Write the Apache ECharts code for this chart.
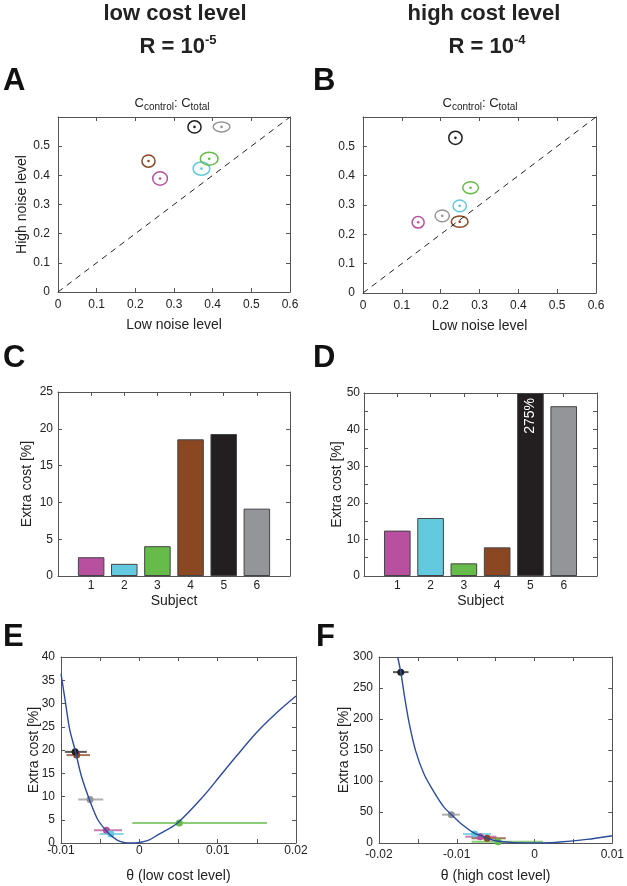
<!DOCTYPE html>
<html>
<head>
<meta charset="utf-8">
<script src="https://cdn.jsdelivr.net/npm/echarts@6/dist/echarts.min.js"></script>
<style>
html,body{margin:0;padding:0;background:#fff}
#main{width:627px;height:886px}
</style>
</head>
<body>
<div id="main"></div>
<script>
/* 数据 */

// 受试者 1-6 的颜色
const subjColors = ['#b8509f', '#62c9de', '#66bb4a', '#8b4622', '#231f20', '#949598'];
const subjects = [1, 2, 3, 4, 5, 6];

// A: 低成本, Ccontrol:Ctotal (低噪声 / 高噪声) 及误差椭圆半径
const aLowNoise = [0.264, 0.371, 0.391, 0.234, 0.353, 0.423];
const aHighNoise = [0.389, 0.423, 0.457, 0.449, 0.566, 0.566];
const aErrX = [0.019, 0.0215, 0.023, 0.017, 0.017, 0.0215];
const aErrY = [0.023, 0.023, 0.022, 0.021, 0.021, 0.017];

// B: 高成本
const bLowNoise = [0.142, 0.249, 0.277, 0.249, 0.238, 0.204];
const bHighNoise = [0.241, 0.297, 0.359, 0.243, 0.529, 0.263];
const bErrX = [0.0155, 0.0172, 0.0202, 0.0215, 0.0172, 0.0185];
const bErrY = [0.0198, 0.0198, 0.0203, 0.0192, 0.0226, 0.0198];

// 对角线
const diagLine = [0, 0.6];

// C / D: 额外成本 [%]
const cExtraCost = [2.55, 1.65, 4.05, 18.57, 19.29, 9.15];
const dExtraCost = [12.4, 15.85, 3.46, 7.83, 275, 46.4];

// E: 低成本 θ 曲线
const eCurveTheta = [-0.01, -0.0095, -0.0089, -0.0082, -0.0074, -0.0063, -0.0053, -0.004, -0.0033, -0.0027, -0.002, -0.0012, -0.0005, 0, 0.0012, 0.0024, 0.0048, 0.0082, 0.0103, 0.0124, 0.015, 0.0176, 0.02];
const eCurveCost = [36.4, 31.0, 24.5, 20.0, 14.4, 9.0, 5.0, 2.2, 1.2, 0.5, 0.12, 0, 0.02, 0.1, 0.6, 1.8, 4.2, 10.1, 14.4, 18.7, 23.8, 28.1, 31.6];
// E: 受试者估计值及区间
const eTheta = [-0.0042, -0.00365, 0.0051, -0.0080, -0.0082, -0.0063];
const eCost = [2.74, 1.94, 4.3, 18.9, 19.6, 9.36];
const eThetaLo = [-0.0058, -0.0051, -0.0009, -0.0093, -0.0095, -0.0078];
const eThetaHi = [-0.0022, -0.0020, 0.0163, -0.0063, -0.0067, -0.0046];

// F: 高成本 θ 曲线
const fCurveTheta = [-0.0176, -0.0172, -0.0167, -0.0161, -0.0153, -0.0142, -0.0129, -0.0117, -0.0107, -0.0094, -0.0077, -0.0068, -0.0061, -0.0048, -0.003, -0.001, 0.001, 0.0033, 0.0067, 0.01];
const fCurveCost = [300, 275.6, 235, 192, 149, 111, 81.7, 58.6, 45.7, 30.7, 15.5, 11.8, 7.5, 3.2, 1.0, 0.2, 0, 1.5, 5.8, 11.8];
// F: 受试者估计值及区间
const fTheta = [-0.0070, -0.0077, -0.0047, -0.0061, -0.0172, -0.0107];
const fCost = [10.2, 14.5, 2.1, 7.5, 275.6, 45.7];
const fThetaLo = [-0.0089, -0.0092, -0.0081, -0.0081, -0.0182, -0.0119];
const fThetaHi = [-0.0049, -0.0056, 0.0011, -0.0037, -0.0162, -0.0096];
const fCostErr = [0, 0, 0, 0, 5, 0];

/* 样式 */
const FONT = '"Liberation Sans", Arial, Helvetica, sans-serif';
const AXIS_COLOR = '#555';

const grids = [
    {left: 58, top: 117, width: 232, height: 175},   // A
    {left: 363, top: 117, width: 233, height: 176},  // B
    {left: 58, top: 392, width: 232, height: 184},   // C
    {left: 364, top: 393, width: 233, height: 183},  // D
    {left: 61, top: 657, width: 235, height: 186},   // E
    {left: 379, top: 657, width: 237, height: 186}   // F
];

const clean = v => String(+(+v).toFixed(4));

// 生成一个坐标轴(主轴 + 镜像轴)
const makeAxis = (gi, pos, opt) => {
    const main = {
        type: 'value', gridIndex: gi, position: pos,
        min: opt.min, max: opt.max, interval: opt.interval,
        axisLine: {show: true, onZero: false, lineStyle: {color: AXIS_COLOR, width: 1}},
        axisTick: {show: true, inside: true, length: 4, lineStyle: {color: AXIS_COLOR}},
        axisLabel: {color: '#222', fontSize: 12, fontFamily: FONT, margin: opt.margin, formatter: opt.fmt || clean},
        splitLine: {show: false},
        name: opt.name || '', nameLocation: 'middle', nameGap: opt.gap || 25,
        nameMoveOverlap: false,
        nameTextStyle: {color: '#222', fontSize: 14, fontFamily: FONT}
    };
    const mirror = Object.assign({}, main, {
        position: pos === 'bottom' ? 'top' : 'right',
        axisLabel: {show: false}, name: ''
    });
    return [main, mirror];
};

const xAxes = [], yAxes = [];
const addPanel = (gi, xo, yo) => {
    xAxes.push(...makeAxis(gi, 'bottom', xo));
    yAxes.push(...makeAxis(gi, 'left', yo));
};

const ratioY = v => (v > 0.59 ? '' : clean(v));
const subjFmt = v => (v >= 1 && v <= 6 ? String(Math.round(v)) : '');
const tenFmt = v => (Math.round(v) % 10 === 0 ? String(Math.round(v)) : '');
const thetaFmt = v => (Math.abs(Math.round(v * 1000)) % 10 === 0 ? clean(v) : '');

addPanel(0, {min: 0, max: 0.6, interval: 0.1, name: 'Low noise level', gap: 26, margin: 7},
    {min: 0, max: 0.6, interval: 0.1, fmt: ratioY, name: 'High noise level', gap: 29, margin: 8});
addPanel(1, {min: 0, max: 0.6, interval: 0.1, name: 'Low noise level', gap: 26, margin: 7},
    {min: 0, max: 0.6, interval: 0.1, fmt: ratioY, margin: 8});
addPanel(2, {min: 0, max: 7, interval: 1, fmt: subjFmt, name: 'Subject', gap: 18, margin: 4},
    {min: 0, max: 25, interval: 5, name: 'Extra cost [%]', gap: 24, margin: 5});
addPanel(3, {min: 0, max: 7, interval: 1, fmt: subjFmt, name: 'Subject', gap: 18, margin: 4},
    {min: 0, max: 50, interval: 5, fmt: tenFmt, name: 'Extra cost [%]', gap: 20, margin: 4});
addPanel(4, {min: -0.01, max: 0.02, interval: 0.005, fmt: thetaFmt, name: 'θ (low cost level)', gap: 26, margin: 2},
    {min: 0, max: 40, interval: 5, name: 'Extra cost [%]', gap: 20, margin: 6});
addPanel(5, {min: -0.02, max: 0.01, interval: 0.005, fmt: thetaFmt, name: 'θ (high cost level)', gap: 26, margin: 6},
    {min: 0, max: 300, interval: 50, name: 'Extra cost [%]', gap: 28, margin: 6});

/* 系列 */

// 误差椭圆 + 中心点
const ellipseSeries = (ai, xs, ys, rxs, rys) => ({
    type: 'custom', xAxisIndex: ai, yAxisIndex: ai,
    data: xs.map((x, i) => [x, ys[i], rxs[i], rys[i], i]),
    renderItem: (params, api) => {
        const c = api.coord([api.value(0), api.value(1)]);
        const e = api.coord([api.value(0) + api.value(2), api.value(1) + api.value(3)]);
        const col = subjColors[api.value(4)];
        return {
            type: 'group',
            children: [
                {type: 'ellipse', shape: {cx: c[0], cy: c[1], rx: e[0] - c[0], ry: c[1] - e[1]},
                    style: {fill: 'none', stroke: col, lineWidth: 1.5}},
                {type: 'circle', shape: {cx: c[0], cy: c[1], r: 1.3}, style: {fill: col}}
            ]
        };
    }
});

const diagSeries = ai => ({
    type: 'line', xAxisIndex: ai, yAxisIndex: ai, silent: true, symbol: 'none',
    data: diagLine.map(v => [v, v]),
    lineStyle: {color: '#222', width: 1, type: [6, 5]}
});

const barSeries = (ai, vals, yMax, label) => ({
    type: 'bar', xAxisIndex: ai, yAxisIndex: ai, barWidth: '80%',
    data: vals.map((v, i) => {
        const item = {value: [subjects[i], Math.min(v, yMax)],
            itemStyle: {color: subjColors[i], borderColor: '#444', borderWidth: 1}};
        if (label && v > yMax) {
            item.label = {show: true, position: 'insideTop', distance: 5, rotate: 90,
                align: 'right', verticalAlign: 'middle', color: '#fff', fontSize: 14,
                fontFamily: FONT, formatter: v + '%'};
        }
        return item;
    })
});

const curveSeries = (ai, xs, ys) => ({
    type: 'line', xAxisIndex: ai, yAxisIndex: ai, symbol: 'none', smooth: 0.3,
    clip: true,
    data: xs.map((x, i) => [x, ys[i]]),
    lineStyle: {color: '#2c4c9c', width: 1.4}
});

// 水平误差线(可选竖直误差)
const errorSeries = (ai, lo, hi, ys, yerr) => ({
    type: 'custom', xAxisIndex: ai, yAxisIndex: ai,
    data: lo.map((l, i) => [l, hi[i], ys[i], yerr ? yerr[i] : 0, i]),
    renderItem: (params, api) => {
        const y = api.value(2), ye = api.value(3), col = subjColors[api.value(4)];
        const a = api.coord([api.value(0), y]);
        const b = api.coord([api.value(1), y]);
        const kids = [{type: 'line', shape: {x1: a[0], y1: a[1], x2: b[0], y2: b[1]},
            style: {stroke: col, lineWidth: 2, opacity: 0.75}}];
        if (ye > 0) {
            const mx = (api.value(0) + api.value(1)) / 2;
            const p = api.coord([mx, y - ye]), q = api.coord([mx, y + ye]);
            kids.push({type: 'line', shape: {x1: p[0], y1: p[1], x2: q[0], y2: q[1]},
                style: {stroke: col, lineWidth: 2}});
        }
        return {type: 'group', children: kids};
    }
});

const pointSeries = (ai, xs, ys) => ({
    type: 'scatter', xAxisIndex: ai, yAxisIndex: ai, symbolSize: 7,
    data: xs.map((x, i) => ({value: [x, ys[i]], itemStyle: {color: subjColors[i], opacity: 1}}))
});

/* 文字 */
const titleRich = {
    m: {fontSize: 22, fontWeight: 'bold', fontFamily: FONT, color: '#222', lineHeight: 24, verticalAlign: 'bottom'},
    p: {fontSize: 13, fontWeight: 'bold', fontFamily: FONT, color: '#222', lineHeight: 13, verticalAlign: 'top'}
};
const subRich = {
    a: {fontSize: 13, fontWeight: 'normal', fontFamily: FONT, color: '#222', lineHeight: 15, verticalAlign: 'top'},
    s: {fontSize: 10, fontWeight: 'normal', fontFamily: FONT, color: '#222', lineHeight: 11, padding: [8, 0, 0, 0], verticalAlign: 'bottom'}
};
const mkTitle = (text, left, top, rich) => ({
    text, left, top, textAlign: 'center', padding: 0,
    textStyle: {rich, fontSize: 22, fontWeight: 'bold', fontFamily: FONT, color: '#222'}
});

const letters = [['A', 3, 81], ['B', 313, 81], ['C', 3, 358], ['D', 313, 358], ['E', 3, 637], ['F', 316, 637]];

const option = {
    animation: false,
    backgroundColor: '#fff',
    title: [
        mkTitle('low cost level', 175, 3),
        mkTitle('{m|R = 10}{p|-5}', 178, 34, titleRich),
        mkTitle('high cost level', 484, 3),
        mkTitle('{m|R = 10}{p|-4}', 487, 34, titleRich),
        mkTitle('{a|C}{s|control}{a|: C}{s|total}', 172, 97, subRich),
        mkTitle('{a|C}{s|control}{a|: C}{s|total}', 480, 97, subRich)
    ],
    graphic: letters.map(([t, x, y]) => ({
        type: 'text', x, y,
        style: {text: t, font: 'bold 31px ' + FONT, fill: '#111', verticalAlign: 'middle'}
    })),
    grid: grids,
    xAxis: xAxes,
    yAxis: yAxes,
    series: [
        diagSeries(0),
        ellipseSeries(0, aLowNoise, aHighNoise, aErrX, aErrY),
        diagSeries(2),
        ellipseSeries(2, bLowNoise, bHighNoise, bErrX, bErrY),
        barSeries(4, cExtraCost, 25, false),
        barSeries(6, dExtraCost, 50, true),
        curveSeries(8, eCurveTheta, eCurveCost),
        errorSeries(8, eThetaLo, eThetaHi, eCost),
        pointSeries(8, eTheta, eCost),
        curveSeries(10, fCurveTheta, fCurveCost),
        errorSeries(10, fThetaLo, fThetaHi, fCost, fCostErr),
        pointSeries(10, fTheta, fCost)
    ]
};

const myChart = echarts.init(document.getElementById('main'));
myChart.setOption(option);
</script>
</body>
</html>
